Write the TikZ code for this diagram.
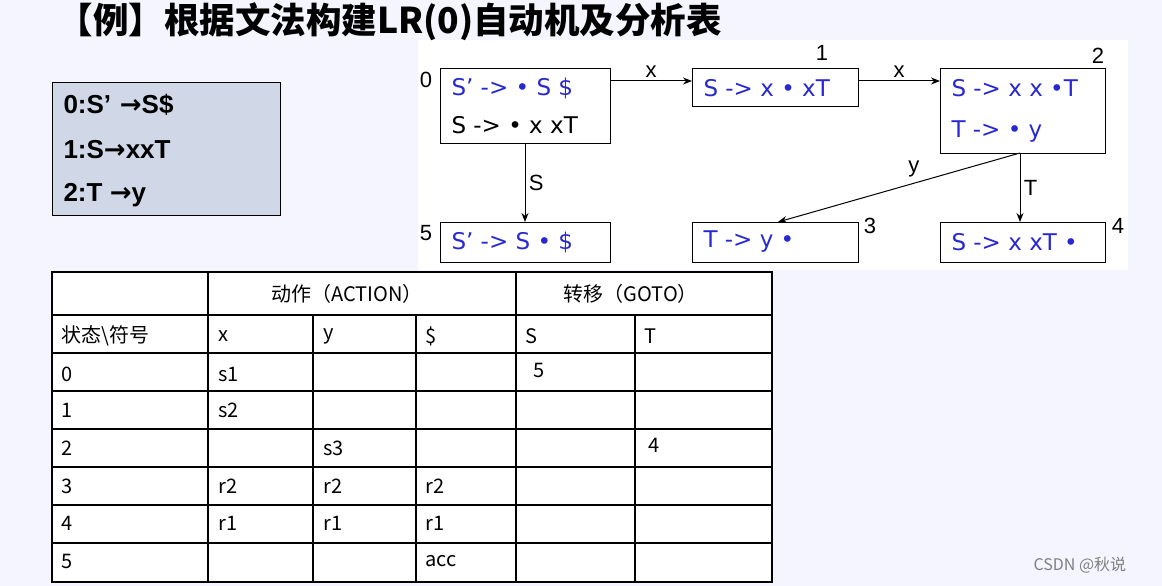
\documentclass[tikz,border=0pt]{standalone}
\usepackage{fontspec}
\setmainfont{Liberation Sans}
\newfontfamily\cjk{Noto Sans CJK SC}
\newfontfamily\dv{DejaVu Sans}
\usetikzlibrary{arrows.meta}
\definecolor{autoblue}{RGB}{40,40,210}
\definecolor{gbox}{RGB}{208,216,232}
\tikzset{
 st/.style={draw,line width=1.3pt,anchor=north west,inner sep=0pt},
 bl/.style={text=autoblue,anchor=west,font=\fontsize{23}{28}\selectfont\dv},
 bk/.style={text=black,anchor=west,font=\fontsize{23}{28}\selectfont\dv},
 lab/.style={font=\fontsize{22}{26}\selectfont},
 arr/.style={-{Stealth[length=9pt,width=7pt]},line width=1pt},
 cell/.style={anchor=west,font=\fontsize{20}{24}\selectfont\cjk},
 tl/.style={line width=1.3pt}
}
\begin{document}
\begin{tikzpicture}[x=1pt,y=-1pt]
\useasboundingbox[fill=white!96!blue] (0,0) rectangle (1162,586);
\fill[white] (418,40) rectangle (1128,270);
\node[anchor=west,font=\fontsize{35.5}{38}\selectfont\cjk\bfseries] (title) at (54,22) {【例】根据文法构建LR(0)自动机及分析表};
% grammar
\node[draw,line width=1.3pt,fill=gbox,minimum width=228pt,minimum height=133pt,anchor=north west] (g) at (52,82) {};
\node[anchor=west,font=\fontsize{26}{30}\selectfont\bfseries] (g0) at (60,105) {0:S’\,\,{\dv →}S\$};
\node[anchor=west,font=\fontsize{26}{30}\selectfont\bfseries] (g1) at (60,150) {1:S{\dv →}xxT};
\node[anchor=west,font=\fontsize{26}{30}\selectfont\bfseries] (g2) at (60,195) {2:T {\dv →}y};
% states
\node[st,minimum width=170pt,minimum height=75pt] (s0) at (440,68) {};
\node[bl] (s0a) at (448,88) {S’ -> • S \$};
\node[bk] (s0b) at (448,125) {S -> • x xT};
\node[lab] (l0) at (426,80) {0};
\node[st,minimum width=166pt,minimum height=38pt] (s1) at (692,68) {};
\node[bl] (s1a) at (700,88) {S -> x • xT};
\node[lab] (l1) at (822,53) {1};
\node[st,minimum width=165pt,minimum height=85pt] (s2) at (940,68) {};
\node[bl] (s2a) at (948,88) {S -> x x •T};
\node[bl] (s2b) at (948,132) {T -> • y};
\node[lab] (l2) at (1098,56) {2};
\node[st,minimum width=170pt,minimum height=40pt] (s5) at (440,222) {};
\node[bl] (s5a) at (448,242) {S’ -> S • \$};
\node[lab] (l5) at (426,233) {5};
\node[st,minimum width=166pt,minimum height=40pt] (s3) at (692,222) {};
\node[bl] (s3a) at (700,242) {T -> y •};
\node[lab] (l3) at (870,226) {3};
\node[st,minimum width=165pt,minimum height=40pt] (s4) at (940,222) {};
\node[bl] (s4a) at (948,242) {S -> x xT •};
\node[lab] (l4) at (1118,226) {4};
\coordinate (c0r) at (610,81); \coordinate (c1l) at (692,81);
\coordinate (c1r) at (858,81); \coordinate (c2l) at (940,81);
\draw[arr] (c0r) -- node[above,lab]{x} (c1l);
\draw[arr] (c1r) -- node[above,lab]{x} (c2l);
\coordinate (d0) at (525,143); \coordinate (d5) at (525,222);
\draw[arr] (d0) -- node[right,lab]{S} (d5);
\coordinate (d2) at (1020,153); \coordinate (d3) at (778,222); \coordinate (d4) at (1020,222);
\draw[arr] (d2) -- node[above left,lab,pos=0.4]{y} (d3);
\draw[arr] (d2) -- node[right,lab]{T} (d4);
% table
\fill[white] (52,272) rectangle (772,582);
\draw[tl] (52,272) rectangle (772,582);
\foreach \y in {315,353,391,429,467,505,543} \draw[tl] (52,\y) -- (772,\y);
\foreach \x in {208,516} \draw[tl] (\x,272) -- (\x,582);
\foreach \x in {313,416,635} \draw[tl] (\x,315) -- (\x,582);
\node[cell] (h1) at (268,294) {动作（ACTION）};
\node[cell] (h2) at (560,294) {转移（GOTO）};
\node[cell] (r0) at (58,336) {状态\textbackslash 符号};
\node[cell] at (215,336) {x}; \node[cell] at (320,336) {y}; \node[cell] at (422,336) {\$};
\node[cell] at (522,336) {S}; \node[cell] at (641,336) {T};
\node[cell] at (58,374) {0}; \node[cell] at (215,374) {s1}; \node[cell] at (530,370) {5};
\node[cell] at (58,410) {1}; \node[cell] at (215,410) {s2};
\node[cell] at (58,448) {2}; \node[cell] at (320,448) {s3}; \node[cell] at (645,445) {4};
\node[cell] at (58,486) {3}; \node[cell] at (215,486) {r2}; \node[cell] at (320,486) {r2}; \node[cell] at (422,486) {r2};
\node[cell] at (58,523) {4}; \node[cell] at (215,523) {r1}; \node[cell] at (320,523) {r1}; \node[cell] at (422,523) {r1};
\node[cell] at (58,561) {5}; \node[cell] at (422,561) {acc};
\node[anchor=west,text=gray,font=\fontsize{16}{20}\selectfont\cjk] (wm) at (1030,565) {CSDN @秋说};
\end{tikzpicture}
\end{document}
